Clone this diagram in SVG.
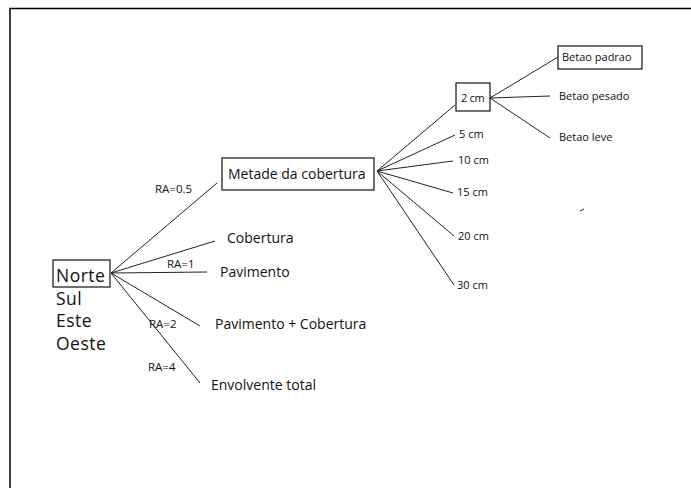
<svg xmlns="http://www.w3.org/2000/svg" width="691" height="488" viewBox="0 0 691 488">
<style>
.frame{stroke:#000;stroke-width:1.5;fill:none}
.box{fill:#fff;stroke:#111;stroke-width:1.2}
.ln{stroke:#222;stroke-width:1;fill:none}
text{font-family:"Open Sans","DejaVu Sans",sans-serif;fill:#111}
.big{font-size:17.5px;letter-spacing:0.5px}
.mid{font-size:14px}
.sm{font-size:11px}
.ra{font-size:11.5px}
</style>
<rect width="691" height="488" fill="#fff"/>
<path class="frame" d="M10,488 V8.5 H691"/>
<g id="connectors">
<line class="ln" x1="111" y1="273" x2="217" y2="183"/>
<line class="ln" x1="111" y1="273" x2="215" y2="241"/>
<line class="ln" x1="111" y1="273" x2="207" y2="272"/>
<line class="ln" x1="111" y1="273" x2="200" y2="326"/>
<line class="ln" x1="111" y1="273" x2="200" y2="383"/>
<line class="ln" x1="377" y1="171" x2="455" y2="105"/>
<line class="ln" x1="377" y1="171" x2="455" y2="135"/>
<line class="ln" x1="377" y1="171" x2="453" y2="161"/>
<line class="ln" x1="377" y1="171" x2="453" y2="193"/>
<line class="ln" x1="377" y1="171" x2="454" y2="236"/>
<line class="ln" x1="377" y1="171" x2="454" y2="285"/>
<line class="ln" x1="490" y1="98" x2="558" y2="57"/>
<line class="ln" x1="490" y1="98" x2="550" y2="96"/>
<line class="ln" x1="490" y1="98" x2="550" y2="138"/>
<line class="ln" x1="580" y1="211" x2="584" y2="209"/>
<text class="ra" x="155" y="193">RA=0.5</text>
<text class="ra" x="167" y="268">RA=1</text>
<text class="ra" x="149" y="328">RA=2</text>
<text class="ra" x="148" y="371">RA=4</text>
</g>
<g id="norte">
<rect class="box" x="53" y="260" width="57" height="27"/>
<text class="big" x="56" y="282">Norte</text>
</g>
<g id="sul"><text class="big" x="56" y="305">Sul</text></g>
<g id="este"><text class="big" x="56" y="327">Este</text></g>
<g id="oeste"><text class="big" x="56" y="350">Oeste</text></g>
<g id="metade">
<rect class="box" x="222" y="158" width="152" height="32"/>
<text class="mid" x="228" y="179">Metade da cobertura</text>
</g>
<g id="cobertura"><text class="mid" x="227" y="243">Cobertura</text></g>
<g id="pavimento"><text class="mid" x="220" y="277">Pavimento</text></g>
<g id="pavcob"><text class="mid" x="215" y="329">Pavimento + Cobertura</text></g>
<g id="envolvente"><text class="mid" x="211" y="390">Envolvente total</text></g>
<g id="cm2">
<rect class="box" x="456" y="83" width="34" height="28"/>
<text class="sm" x="461" y="102" letter-spacing="-0.3">2 cm</text>
</g>
<g id="cm5"><text class="sm" x="459" y="138">5 cm</text></g>
<g id="cm10"><text class="sm" x="458" y="164">10 cm</text></g>
<g id="cm15"><text class="sm" x="457" y="196">15 cm</text></g>
<g id="cm20"><text class="sm" x="458" y="240">20 cm</text></g>
<g id="cm30"><text class="sm" x="457" y="289">30 cm</text></g>
<g id="padrao">
<rect class="box" x="558" y="46" width="84" height="23"/>
<text class="sm" x="562" y="61">Betao padrao</text>
</g>
<g id="pesado"><text class="sm" x="559" y="100">Betao pesado</text></g>
<g id="leve"><text class="sm" x="559" y="141">Betao leve</text></g>
</svg>
